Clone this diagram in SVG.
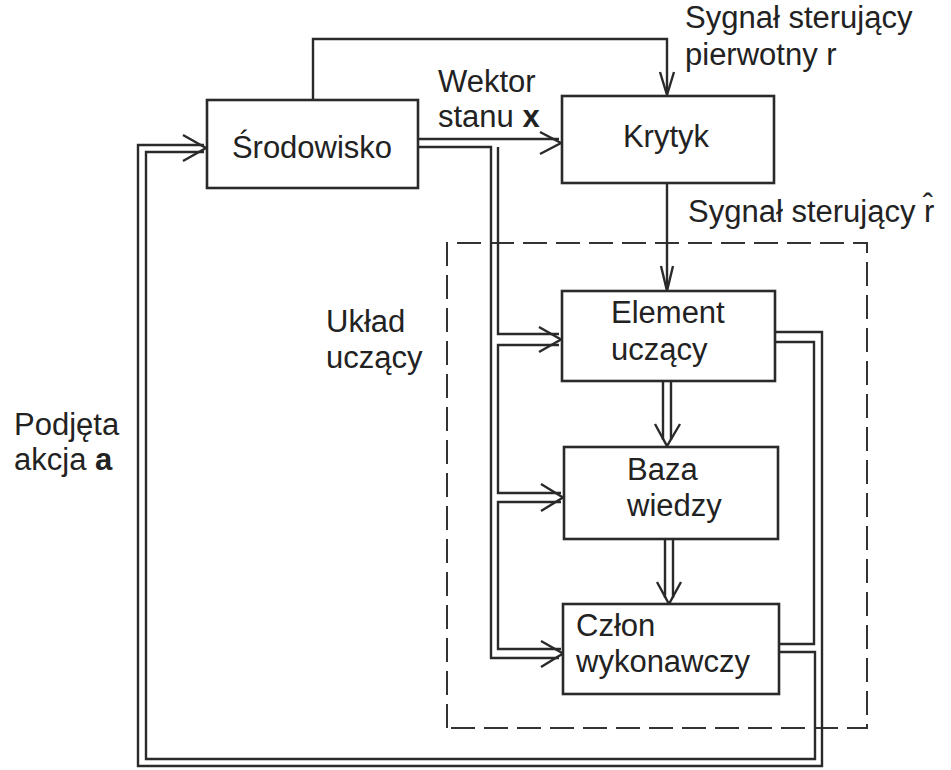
<svg xmlns="http://www.w3.org/2000/svg" width="951" height="770" viewBox="0 0 951 770">
<style>
  .box { fill: #fff; stroke: #2a2a2a; stroke-width: 2.6; }
  .ln { fill: none; stroke: #2a2a2a; stroke-width: 2.4; stroke-linejoin: miter; }
  .arr { fill: none; stroke: #2a2a2a; stroke-width: 2.4; stroke-linejoin: miter; }
  .dash { fill: none; stroke: #333; stroke-width: 2; stroke-dasharray: 24 9; }
  text { font-family: "Liberation Sans", Arial, sans-serif; font-size: 31px; fill: #222; }
  .b { font-weight: bold; }
</style>
<rect width="951" height="770" fill="#fff"/>

<g id="learning-system">
  <path class="dash" d="M447,728 V243 H867 V728 Z"/>
  <text x="326" y="332">Układ</text>
  <text x="326" y="368">uczący</text>
</g>

<g id="connectors">
  <!-- Środowisko top -> Krytyk (primary signal r) -->
  <path class="ln" d="M313,100 V39 H667 V93"/>
  <path class="arr" d="M660,72 L667,95 L674,72"/>
  <!-- state vector x to Krytyk -->
  <path class="ln" d="M418,139 H559"/>
  <path class="arr" d="M540,132 L561,143 L540,154"/>
  <!-- state vector pipe down to learning system -->
  <path class="ln" d="M418,147 H491 V658 H559"/>
  <path class="ln" d="M498,147 V334 H559"/>
  <path class="ln" d="M559,345 H498 V493 H561"/>
  <path class="ln" d="M561,502 H498 V649 H561"/>
  <path class="arr" d="M539,327 L561,339.5 L539,352"/>
  <path class="arr" d="M541,484 L563,497.5 L541,511"/>
  <path class="arr" d="M541,641 L563,653.5 L541,667"/>
  <!-- Krytyk -> Element (signal r hat) -->
  <path class="ln" d="M667,183 V289"/>
  <path class="arr" d="M661,266 L667,291 L673,266"/>
  <!-- Element -> Baza -->
  <path class="ln" d="M663,381 V440 M671,381 V440"/>
  <path class="arr" d="M655,424 L667,446 L680,424"/>
  <!-- Baza -> Człon -->
  <path class="ln" d="M665,539 V598 M673,539 V598"/>
  <path class="arr" d="M657,582 L669,604 L681,582"/>
  <!-- feedback: Element & Człon -> action a -> Środowisko -->
  <path class="ln" d="M775,332 H822 V766 H138 V145 H204"/>
  <path class="ln" d="M775,342 H814 V644 H779"/>
  <path class="ln" d="M779,652 H815 V759 H146 V152 H204"/>
  <path class="arr" d="M183,135 L206,148 L183,161"/>
</g>

<g id="srodowisko">
  <rect class="box" x="207" y="100" width="211" height="88"/>
  <text x="312" y="158" text-anchor="middle">Środowisko</text>
</g>

<g id="krytyk">
  <rect class="box" x="562" y="96" width="212" height="87"/>
  <text x="666" y="147" text-anchor="middle">Krytyk</text>
</g>

<g id="element-uczacy">
  <rect class="box" x="562" y="291" width="213" height="90"/>
  <text x="611" y="323">Element</text>
  <text x="611" y="360">uczący</text>
</g>

<g id="baza-wiedzy">
  <rect class="box" x="564" y="447" width="214" height="92"/>
  <text x="627" y="480">Baza</text>
  <text x="627" y="516">wiedzy</text>
</g>

<g id="czlon-wykonawczy">
  <rect class="box" x="563" y="604" width="216" height="90"/>
  <text x="576" y="636">Człon</text>
  <text x="576" y="672">wykonawczy</text>
</g>

<g id="labels">
  <text x="438" y="92">Wektor</text>
  <text x="438" y="127">stanu <tspan class="b">x</tspan></text>
  <text x="685" y="28">Sygnał sterujący</text>
  <text x="685" y="65">pierwotny r</text>
  <text x="688" y="222">Sygnał sterujący r̂</text>
  <text x="14" y="435">Podjęta</text>
  <text x="14" y="470">akcja <tspan class="b">a</tspan></text>
</g>
</svg>
